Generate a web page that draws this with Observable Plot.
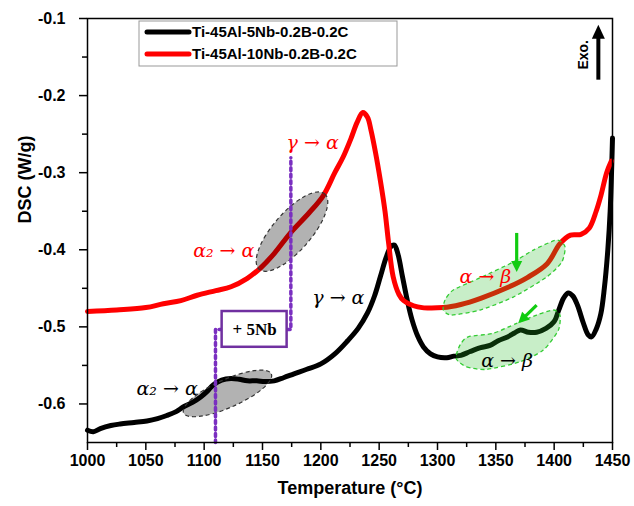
<!DOCTYPE html>
<html><head><meta charset="utf-8">
<script src="https://cdn.jsdelivr.net/npm/d3@7"></script>
<script src="https://cdn.jsdelivr.net/npm/@observablehq/plot@0.6"></script>
<style>body{margin:0;background:#fff}</style>
</head><body><div id="chart"></div>
<script>
// ---- data ----
const seriesNames = ["Ti-45Al-5Nb-0.2B-0.2C", "Ti-45Al-10Nb-0.2B-0.2C"];
const seriesColors = ["#000000", "#ff0000"];

const tempBlack = [1000,1005,1011,1020,1028,1040,1051,1060,1068,1076,1082,1090,1097,1103,1108,1115,1123,1130,1137,1145,1152,1160,1168,1177,1188,1200,1212,1223,1232,1240,1246,1251,1256,1260,1263,1266,1270,1274,1278,1283,1288,1294,1300,1308,1314,1320,1328,1337,1345,1352,1360,1366,1371,1378,1385,1393,1400,1404,1408,1412,1416,1420,1425,1429,1432,1436,1440,1443,1446,1448,1450];
const dscBlack  = [-0.634,-0.636,-0.632,-0.628,-0.626,-0.624,-0.622,-0.619,-0.615,-0.610,-0.604,-0.598,-0.591,-0.583,-0.575,-0.569,-0.567,-0.568,-0.570,-0.570,-0.571,-0.570,-0.566,-0.561,-0.555,-0.548,-0.535,-0.518,-0.502,-0.482,-0.460,-0.435,-0.410,-0.396,-0.394,-0.405,-0.435,-0.465,-0.490,-0.512,-0.526,-0.535,-0.539,-0.540,-0.538,-0.537,-0.532,-0.527,-0.524,-0.518,-0.513,-0.508,-0.504,-0.507,-0.507,-0.502,-0.493,-0.478,-0.463,-0.456,-0.460,-0.472,-0.495,-0.510,-0.513,-0.503,-0.483,-0.450,-0.400,-0.350,-0.255];

const tempRed = [1000,1025,1050,1065,1080,1094,1110,1123,1137,1148,1160,1174,1190,1202,1212,1219,1226,1231,1236,1240,1243,1247,1251,1255,1258,1262,1267,1271,1283,1305,1320,1337,1360,1377,1394,1405,1414,1423,1430,1436,1440,1445,1449];
const dscRed  = [-0.480,-0.478,-0.475,-0.470,-0.466,-0.459,-0.453,-0.448,-0.437,-0.424,-0.405,-0.378,-0.352,-0.330,-0.300,-0.280,-0.255,-0.235,-0.222,-0.228,-0.245,-0.275,-0.310,-0.350,-0.390,-0.435,-0.458,-0.466,-0.474,-0.475,-0.471,-0.463,-0.449,-0.436,-0.418,-0.392,-0.381,-0.380,-0.372,-0.350,-0.330,-0.300,-0.285];

const xTicks = [1000,1050,1100,1150,1200,1250,1300,1350,1400,1450];
const xMinorTicks = [1025,1075,1125,1175,1225,1275,1325,1375,1425];
const yTicks = [-0.6,-0.5,-0.4,-0.3,-0.2,-0.1];
const yMinorTicks = [-0.55,-0.45,-0.35,-0.25,-0.15];

const xTitle = "Temperature (°C)";
const yTitle = "DSC (W/g)";

// annotations (data units)
const labelText  = ["γ → α", "α₂ → α", "γ → α", "α₂ → α", "α → β", "α → β"];
const labelT     = [1193, 1116.8, 1215, 1068.3, 1341.1, 1359.7];
const labelV     = [-0.262, -0.401, -0.462, -0.5805, -0.4358, -0.5438];
const labelColor = ["#ff0000", "#ff0000", "#000000", "#000000", "#ff0000", "#000000"];

const grayEllT = [1175.7, 1120.4];
const grayEllV = [-0.3771, -0.587];
const grayEllA = [50, 48];   // semi axes (px)
const grayEllB = [19, 14];
const grayEllRot = [49, 24]; // degrees

const greenBlobRed = [[1305.4,-0.4788],[1312.6,-0.4853],[1336.9,-0.4788],[1365.4,-0.462],[1394,-0.436],[1407,-0.4165],[1409.7,-0.3966],[1402.6,-0.388],[1382.6,-0.401],[1365.4,-0.4165],[1336.9,-0.437],[1314,-0.4528],[1306.9,-0.4658]];
const greenBlobBlack = [[1316.3,-0.5416],[1325.4,-0.5525],[1342.6,-0.5558],[1371.1,-0.546],[1391.1,-0.5308],[1404,-0.505],[1405.4,-0.4853],[1399.7,-0.4788],[1385.4,-0.4853],[1368.2,-0.4961],[1348.2,-0.509],[1326.8,-0.5135],[1319.7,-0.5243]];

const greenArrows = [[[1368.3,-0.3788],[1368.3,-0.4295]], [[1385.4,-0.4723],[1369.6,-0.4961]]];
const exoArrow = [[1438.3,-0.180],[1438.3,-0.1087]];
const exoText = {t: 1425.4, v: -0.1477, text: "Exo."};

const nbBox = {t1: 1115.4, t2: 1171.1, v1: -0.4801, v2: -0.5265, text: "+ 5Nb"};
const purpleRight = [[1171.1,-0.5035],[1174.3,-0.5035],[1174.3,-0.2805]];
const purpleLeft  = [[1115.4,-0.5035],[1109.7,-0.5035],[1109.7,-0.65]];

const rows = [
  ...tempBlack.map((t,i) => ({t, v: dscBlack[i], s: seriesNames[0]})),
  ...tempRed.map((t,i) => ({t, v: dscRed[i], s: seriesNames[1]}))
];

function arrowHead(g, x0, y0, x1, y1, len, wid, color) {
  const ang = Math.atan2(y1 - y0, x1 - x0);
  const bx = x1 - len * Math.cos(ang), by = y1 - len * Math.sin(ang);
  const px = -Math.sin(ang) * wid / 2, py = Math.cos(ang) * wid / 2;
  g.append("path").attr("d", `M${x1},${y1}L${bx+px},${by+py}L${bx-px},${by-py}Z`).attr("fill", color).attr("stroke", "none");
  g.append("line").attr("x1", x0).attr("y1", y0).attr("x2", bx + len*0.2*Math.cos(ang)).attr("y2", by + len*0.2*Math.sin(ang));
}

function overlay(index, scales, values, dimensions) {
  const {x, y} = scales;
  const g = d3.create("svg:g");
  // gray ellipses
  grayEllT.forEach((t, i) => {
    const cx = x(t), cy = y(grayEllV[i]);
    g.append("ellipse").attr("cx", cx).attr("cy", cy).attr("rx", grayEllA[i]).attr("ry", grayEllB[i])
      .attr("transform", `rotate(${-grayEllRot[i]} ${cx} ${cy})`)
      .attr("fill", "#000").attr("fill-opacity", 0.3)
      .attr("stroke", "#333").attr("stroke-width", 1.2).attr("stroke-dasharray", "4,3");
  });
  // green blobs
  const blob = d3.line().x(d => x(d[0])).y(d => y(d[1])).curve(d3.curveCardinalClosed.tension(0.3));
  [greenBlobRed, greenBlobBlack].forEach(b => {
    g.append("path").attr("d", blob(b)).attr("fill", "#22bb22").attr("fill-opacity", 0.25)
      .attr("stroke", "#33cc33").attr("stroke-width", 1.3).attr("stroke-dasharray", "4,3");
  });
  // green arrows
  const ga = g.append("g").attr("stroke", "#11cc11").attr("stroke-width", 3.2);
  greenArrows.forEach(a => arrowHead(ga, x(a[0][0]), y(a[0][1]), x(a[1][0]), y(a[1][1]), 11, 11, "#11cc11"));
  // Exo arrow
  const ea = g.append("g").attr("stroke", "#000").attr("stroke-width", 4);
  arrowHead(ea, x(exoArrow[0][0]), y(exoArrow[0][1]), x(exoArrow[1][0]), y(exoArrow[1][1]), 14, 13, "#000");
  g.append("text").attr("transform", `translate(${x(exoText.t)},${y(exoText.v)}) rotate(-90)`)
    .attr("text-anchor", "middle").attr("dy", "0.35em")
    .attr("font-family", "Arial, 'Liberation Sans', sans-serif").attr("font-weight", "bold").attr("font-size", 14)
    .text(exoText.text);
  // legend
  const L = g.append("g");
  L.append("rect").attr("x", 139).attr("y", 21).attr("width", 258).attr("height", 45)
    .attr("fill", "#fff").attr("stroke", "#999").attr("stroke-width", 1);
  seriesNames.forEach((n, i) => {
    const yy = 32 + i * 22;
    L.append("line").attr("x1", 147).attr("x2", 189).attr("y1", yy).attr("y2", yy)
      .attr("stroke", seriesColors[i]).attr("stroke-width", 5).attr("stroke-linecap", "round");
    L.append("text").attr("x", 192).attr("y", yy).attr("dy", "0.36em").attr("text-anchor", "start")
      .attr("font-family", "Arial, 'Liberation Sans', sans-serif").attr("font-weight", "bold").attr("font-size", 15)
      .text(n);
  });
  return g.node();
}

const chart = Plot.plot({
  width: 634, height: 506,
  marginLeft: 87, marginRight: 22, marginTop: 18, marginBottom: 64,
  x: {domain: [1000, 1450]},
  y: {domain: [-0.65, -0.1]},
  style: {fontFamily: "Arial, 'Liberation Sans', sans-serif", background: "#fff", color: "#000", overflow: "visible"},
  marks: [
    Plot.line(rows, {x: "t", y: "v", z: "s", stroke: "s", strokeWidth: 5, curve: "catmull-rom", strokeLinejoin: "round"}),
    overlay,
    Plot.line(purpleRight, {x: d => d[0], y: d => d[1], stroke: "#7a2fc0", strokeWidth: 3.5, strokeDasharray: "3,3.5"}),
    Plot.line(purpleLeft, {x: d => d[0], y: d => d[1], stroke: "#7a2fc0", strokeWidth: 3.5, strokeDasharray: "3,3.5"}),
    Plot.rect([nbBox], {x1: "t1", x2: "t2", y1: "v1", y2: "v2", fill: "#fff", stroke: "#7030a0", strokeWidth: 2.5}),
    Plot.text([nbBox], {x: d => (d.t1 + d.t2) / 2, y: d => (d.v1 + d.v2) / 2, text: "text", fontFamily: "'Liberation Serif', 'Times New Roman', serif", fontWeight: "bold", fontSize: 17, fill: "#000"}),
    Plot.text(labelText, {x: (d, i) => labelT[i], y: (d, i) => labelV[i], text: d => d, fill: (d, i) => labelColor[i], fontFamily: "'DejaVu Serif', serif", fontStyle: "italic", fontSize: 19}),
    Plot.frame({stroke: "#000", strokeWidth: 1.5}),
    Plot.axisX({ticks: xTicks, tickSize: 8, tickPadding: 4, tickFormat: d => String(d), fontSize: 16, fontWeight: "bold", label: null, strokeWidth: 1.5}),
    Plot.axisX({ticks: xMinorTicks, tickSize: 5, tickFormat: () => "", label: null, strokeWidth: 1.5}),
    Plot.axisY({ticks: yTicks, tickSize: 8, tickPadding: 14, tickFormat: d => d.toFixed(1), fontSize: 16, fontWeight: "bold", label: null, strokeWidth: 1.5}),
    Plot.axisY({ticks: yMinorTicks, tickSize: 5, tickFormat: () => "", label: null, strokeWidth: 1.5}),
    Plot.text([xTitle], {frameAnchor: "bottom", dy: 51, text: d => d, fontSize: 18, fontWeight: "bold", fill: "#000"}),
    Plot.text([yTitle], {frameAnchor: "left", dx: -62, dy: -7, rotate: -90, text: d => d, fontSize: 18, fontWeight: "bold", fill: "#000"})
  ],
  color: {domain: seriesNames, range: seriesColors}
});
document.getElementById("chart").append(chart);
</script>
</body></html>
